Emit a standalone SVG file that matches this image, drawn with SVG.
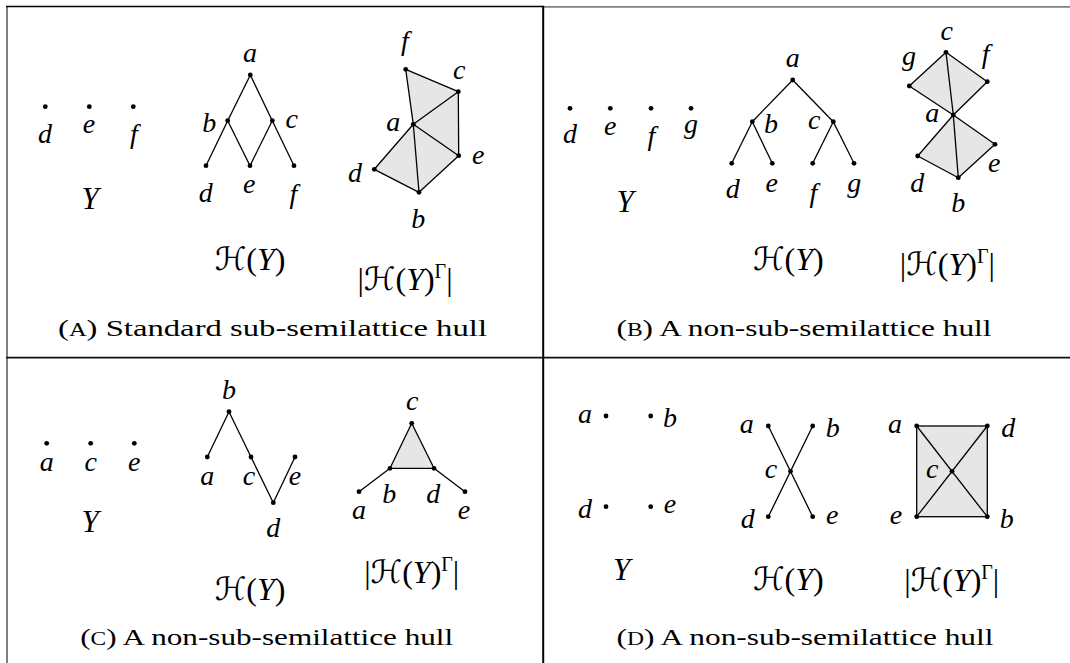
<svg xmlns="http://www.w3.org/2000/svg" width="1070" height="663" viewBox="0 0 1070 663">
<style>
.m{font-family:'Liberation Serif','DejaVu Serif',serif;font-style:italic;font-size:28px;fill:#000;text-anchor:middle}
.y{font-size:31px}
.r{font-family:'Liberation Serif','DejaVu Serif',serif;font-size:32px;fill:#000;text-anchor:middle}
.it{font-style:italic}
.cal{font-family:'DejaVu Serif','DejaVu Sans',serif;font-style:italic}
.sup{font-size:20px}
.cap{font-family:'Liberation Serif','DejaVu Serif',serif;font-size:24px;fill:#000;text-anchor:middle}
.sc{font-size:18px}
.e{stroke:#000;stroke-width:1.3;fill:none}
.f{fill:#e6e6e6;stroke:none}
.dot{fill:#000}
</style>
<rect width="1070" height="663" fill="#fff"/>
<g id="frame">
<line x1="7" y1="6" x2="7" y2="663" stroke="#808080" stroke-width="2"/>
<line x1="6" y1="6.5" x2="543" y2="6.5" stroke="#000" stroke-width="1.5"/>
<line x1="543" y1="6.8" x2="1070" y2="6.8" stroke="#808080" stroke-width="1.8"/>
<line x1="543.2" y1="5.8" x2="543.2" y2="663" stroke="#000" stroke-width="2"/>
<line x1="6" y1="357.7" x2="1070" y2="357.7" stroke="#111" stroke-width="1.8"/>
</g>

<g id="faces-A">
<polygon class="f" points="405.7,69.3 458.3,91.7 458.7,155.7 419,192.3 374.3,169.3 413.3,124.3"/>
</g>
<g id="connectors">
<g id="edges-A">
<line class="e" x1="250.3" y1="75" x2="227.7" y2="120.7"/>
<line class="e" x1="250.3" y1="75" x2="272.3" y2="120.7"/>
<line class="e" x1="227.7" y1="120.7" x2="206" y2="165.7"/>
<line class="e" x1="227.7" y1="120.7" x2="250" y2="165.7"/>
<line class="e" x1="272.3" y1="120.7" x2="250" y2="165.7"/>
<line class="e" x1="272.3" y1="120.7" x2="294" y2="165.7"/>
<line class="e" x1="405.7" y1="69.3" x2="458.3" y2="91.7"/>
<line class="e" x1="405.7" y1="69.3" x2="413.3" y2="124.3"/>
<line class="e" x1="458.3" y1="91.7" x2="413.3" y2="124.3"/>
<line class="e" x1="458.3" y1="91.7" x2="458.7" y2="155.7"/>
<line class="e" x1="413.3" y1="124.3" x2="458.7" y2="155.7"/>
<line class="e" x1="413.3" y1="124.3" x2="419" y2="192.3"/>
<line class="e" x1="413.3" y1="124.3" x2="374.3" y2="169.3"/>
<line class="e" x1="374.3" y1="169.3" x2="419" y2="192.3"/>
<line class="e" x1="419" y1="192.3" x2="458.7" y2="155.7"/>
</g>
<g id="edges-B">
<polygon class="f" points="946,52.3 987.3,81.7 953.3,115 909.3,86"/>
<polygon class="f" points="953.3,115 995,144.3 958.3,177.7 917.7,156"/>
<line class="e" x1="792.7" y1="80" x2="752.3" y2="121.7"/>
<line class="e" x1="792.7" y1="80" x2="833.3" y2="121.7"/>
<line class="e" x1="752.3" y1="121.7" x2="731.7" y2="163.3"/>
<line class="e" x1="752.3" y1="121.7" x2="772.3" y2="163.3"/>
<line class="e" x1="833.3" y1="121.7" x2="812.7" y2="163.3"/>
<line class="e" x1="833.3" y1="121.7" x2="854" y2="163.3"/>
<line class="e" x1="909.3" y1="86" x2="946" y2="52.3"/>
<line class="e" x1="946" y1="52.3" x2="987.3" y2="81.7"/>
<line class="e" x1="987.3" y1="81.7" x2="953.3" y2="115"/>
<line class="e" x1="909.3" y1="86" x2="953.3" y2="115"/>
<line class="e" x1="946" y1="52.3" x2="953.3" y2="115"/>
<line class="e" x1="953.3" y1="115" x2="995" y2="144.3"/>
<line class="e" x1="995" y1="144.3" x2="958.3" y2="177.7"/>
<line class="e" x1="958.3" y1="177.7" x2="917.7" y2="156"/>
<line class="e" x1="917.7" y1="156" x2="953.3" y2="115"/>
<line class="e" x1="953.3" y1="115" x2="958.3" y2="177.7"/>
</g>
<g id="edges-C">
<polygon class="f" points="411.7,423.3 434,468.3 390,468.3"/>
<line class="e" x1="229" y1="411.7" x2="207.3" y2="457"/>
<line class="e" x1="229" y1="411.7" x2="251" y2="457"/>
<line class="e" x1="251" y1="457" x2="273.3" y2="502.7"/>
<line class="e" x1="273.3" y1="502.7" x2="295" y2="457"/>
<line class="e" x1="411.7" y1="423.3" x2="434" y2="468.3"/>
<line class="e" x1="434" y1="468.3" x2="390" y2="468.3"/>
<line class="e" x1="390" y1="468.3" x2="411.7" y2="423.3"/>
<line class="e" x1="390" y1="468.3" x2="359" y2="491.7"/>
<line class="e" x1="434" y1="468.3" x2="465" y2="491.7"/>
</g>
<g id="edges-D">
<rect class="f" x="916.7" y="426" width="70.6" height="90.7"/>
<line class="e" x1="768.3" y1="426" x2="812.7" y2="516.7"/>
<line class="e" x1="812.7" y1="426" x2="768.3" y2="516.7"/>
<rect class="e" x="916.7" y="426" width="70.6" height="90.7"/>
<line class="e" x1="916.7" y1="426" x2="987.3" y2="516.7"/>
<line class="e" x1="987.3" y1="426" x2="916.7" y2="516.7"/>
</g>
</g>

<g id="nodes-A">
<g id="A-Y-d"><circle class="dot" cx="45.3" cy="106.7" r="2.4"/><text class="m" x="45" y="142.7">d</text></g>
<g id="A-Y-e"><circle class="dot" cx="89.3" cy="106.7" r="2.4"/><text class="m" x="89" y="133.3">e</text></g>
<g id="A-Y-f"><circle class="dot" cx="133.3" cy="106.7" r="2.4"/><text class="m" x="134" y="143">f</text></g>
<text id="A-Y" class="m y" x="90" y="209">Y</text>
<g id="A-H-a"><circle class="dot" cx="250.3" cy="75" r="2.4"/><text class="m" x="250" y="61.7">a</text></g>
<g id="A-H-b"><circle class="dot" cx="227.7" cy="120.7" r="2.4"/><text class="m" x="209.3" y="132.3">b</text></g>
<g id="A-H-c"><circle class="dot" cx="272.3" cy="120.7" r="2.4"/><text class="m" x="291.7" y="128.3">c</text></g>
<g id="A-H-d"><circle class="dot" cx="206" cy="165.7" r="2.4"/><text class="m" x="205.7" y="202">d</text></g>
<g id="A-H-e"><circle class="dot" cx="250" cy="165.7" r="2.4"/><text class="m" x="249.3" y="193.3">e</text></g>
<g id="A-H-f"><circle class="dot" cx="294" cy="165.7" r="2.4"/><text class="m" x="293.3" y="203">f</text></g>
<text id="A-HY" class="r" x="250" y="270"><tspan class="cal">ℋ</tspan>(<tspan class="it">Y</tspan>)</text>
<g id="A-K-f"><circle class="dot" cx="405.7" cy="69.3" r="2.4"/><text class="m" x="405" y="50">f</text></g>
<g id="A-K-c"><circle class="dot" cx="458.3" cy="91.7" r="2.4"/><text class="m" x="459.3" y="79">c</text></g>
<g id="A-K-a"><circle class="dot" cx="413.3" cy="124.3" r="2.4"/><text class="m" x="393.3" y="130.7">a</text></g>
<g id="A-K-e"><circle class="dot" cx="458.7" cy="155.7" r="2.4"/><text class="m" x="478.3" y="164">e</text></g>
<g id="A-K-d"><circle class="dot" cx="374.3" cy="169.3" r="2.4"/><text class="m" x="355" y="181.7">d</text></g>
<g id="A-K-b"><circle class="dot" cx="419" cy="192.3" r="2.4"/><text class="m" x="418.3" y="228">b</text></g>
<text id="A-K" class="r" x="405" y="290">|<tspan class="cal">ℋ</tspan>(<tspan class="it">Y</tspan>)<tspan class="sup" dy="-12">Γ</tspan><tspan dy="12">|</tspan></text>
<text id="A-cap" class="cap" x="272.5" y="336" textLength="429" lengthAdjust="spacingAndGlyphs">(<tspan class="sc">A</tspan>) Standard sub-semilattice hull</text>
</g>

<g id="nodes-B">
<g id="B-Y-d"><circle class="dot" cx="570" cy="108.3" r="2.4"/><text class="m" x="570" y="143.3">d</text></g>
<g id="B-Y-e"><circle class="dot" cx="610.3" cy="108.3" r="2.4"/><text class="m" x="610.3" y="135">e</text></g>
<g id="B-Y-f"><circle class="dot" cx="651" cy="108.3" r="2.4"/><text class="m" x="651.5" y="145">f</text></g>
<g id="B-Y-g"><circle class="dot" cx="691" cy="108.3" r="2.4"/><text class="m" x="691" y="133.3">g</text></g>
<text id="B-Y" class="m y" x="625" y="211.7">Y</text>
<g id="B-H-a"><circle class="dot" cx="792.7" cy="80" r="2.4"/><text class="m" x="792.7" y="66.7">a</text></g>
<g id="B-H-b"><circle class="dot" cx="752.3" cy="121.7" r="2.4"/><text class="m" x="771" y="133.3">b</text></g>
<g id="B-H-c"><circle class="dot" cx="833.3" cy="121.7" r="2.4"/><text class="m" x="814.3" y="129.3">c</text></g>
<g id="B-H-d"><circle class="dot" cx="731.7" cy="163.3" r="2.4"/><text class="m" x="732.7" y="198.3">d</text></g>
<g id="B-H-e"><circle class="dot" cx="772.3" cy="163.3" r="2.4"/><text class="m" x="771.7" y="191.7">e</text></g>
<g id="B-H-f"><circle class="dot" cx="812.7" cy="163.3" r="2.4"/><text class="m" x="813.3" y="201.7">f</text></g>
<g id="B-H-g"><circle class="dot" cx="854" cy="163.3" r="2.4"/><text class="m" x="854.3" y="191.7">g</text></g>
<text id="B-HY" class="r" x="788.3" y="270"><tspan class="cal">ℋ</tspan>(<tspan class="it">Y</tspan>)</text>
<g id="B-K-c"><circle class="dot" cx="946" cy="52.3" r="2.4"/><text class="m" x="946.7" y="40">c</text></g>
<g id="B-K-g"><circle class="dot" cx="909.3" cy="86" r="2.4"/><text class="m" x="909" y="65">g</text></g>
<g id="B-K-f"><circle class="dot" cx="987.3" cy="81.7" r="2.4"/><text class="m" x="985.7" y="63.3">f</text></g>
<g id="B-K-a"><circle class="dot" cx="953.3" cy="115" r="2.4"/><text class="m" x="932.3" y="121.7">a</text></g>
<g id="B-K-e"><circle class="dot" cx="995" cy="144.3" r="2.4"/><text class="m" x="994.3" y="171.7">e</text></g>
<g id="B-K-d"><circle class="dot" cx="917.7" cy="156" r="2.4"/><text class="m" x="917.3" y="191.7">d</text></g>
<g id="B-K-b"><circle class="dot" cx="958.3" cy="177.7" r="2.4"/><text class="m" x="958.3" y="211.7">b</text></g>
<text id="B-K" class="r" x="947.3" y="275">|<tspan class="cal">ℋ</tspan>(<tspan class="it">Y</tspan>)<tspan class="sup" dy="-12">Γ</tspan><tspan dy="12">|</tspan></text>
<text id="B-cap" class="cap" x="804" y="336" textLength="375" lengthAdjust="spacingAndGlyphs">(<tspan class="sc">B</tspan>) A non-sub-semilattice hull</text>
</g>

<g id="nodes-C">
<g id="C-Y-a"><circle class="dot" cx="46.7" cy="443.3" r="2.4"/><text class="m" x="46.7" y="470.7">a</text></g>
<g id="C-Y-c"><circle class="dot" cx="90.7" cy="443.3" r="2.4"/><text class="m" x="90.7" y="470.7">c</text></g>
<g id="C-Y-e"><circle class="dot" cx="134.3" cy="443.3" r="2.4"/><text class="m" x="134.3" y="470.7">e</text></g>
<text id="C-Y" class="m y" x="90" y="531.7">Y</text>
<g id="C-H-b"><circle class="dot" cx="229" cy="411.7" r="2.4"/><text class="m" x="229" y="399.3">b</text></g>
<g id="C-H-a"><circle class="dot" cx="207.3" cy="457" r="2.4"/><text class="m" x="207.3" y="485">a</text></g>
<g id="C-H-c"><circle class="dot" cx="251" cy="457" r="2.4"/><text class="m" x="249" y="485">c</text></g>
<g id="C-H-e"><circle class="dot" cx="295" cy="457" r="2.4"/><text class="m" x="295" y="485">e</text></g>
<g id="C-H-d"><circle class="dot" cx="273.3" cy="502.7" r="2.4"/><text class="m" x="273.3" y="536.7">d</text></g>
<text id="C-HY" class="r" x="250" y="600"><tspan class="cal">ℋ</tspan>(<tspan class="it">Y</tspan>)</text>
<g id="C-K-c"><circle class="dot" cx="411.7" cy="423.3" r="2.4"/><text class="m" x="412.3" y="410">c</text></g>
<g id="C-K-b"><circle class="dot" cx="390" cy="468.3" r="2.4"/><text class="m" x="389.3" y="503.3">b</text></g>
<g id="C-K-d"><circle class="dot" cx="434" cy="468.3" r="2.4"/><text class="m" x="433.3" y="503.3">d</text></g>
<g id="C-K-a"><circle class="dot" cx="359" cy="491.7" r="2.4"/><text class="m" x="359" y="519">a</text></g>
<g id="C-K-e"><circle class="dot" cx="465" cy="491.7" r="2.4"/><text class="m" x="464" y="519">e</text></g>
<text id="C-K" class="r" x="411.7" y="583.3">|<tspan class="cal">ℋ</tspan>(<tspan class="it">Y</tspan>)<tspan class="sup" dy="-12">Γ</tspan><tspan dy="12">|</tspan></text>
<text id="C-cap" class="cap" x="266.7" y="645" textLength="373" lengthAdjust="spacingAndGlyphs">(<tspan class="sc">C</tspan>) A non-sub-semilattice hull</text>
</g>

<g id="nodes-D">
<g id="D-Y-a"><circle class="dot" cx="606" cy="416" r="2.4"/><text class="m" x="585" y="423.3">a</text></g>
<g id="D-Y-b"><circle class="dot" cx="650.7" cy="416" r="2.4"/><text class="m" x="670" y="426.7">b</text></g>
<g id="D-Y-d"><circle class="dot" cx="606" cy="506.7" r="2.4"/><text class="m" x="585" y="518.3">d</text></g>
<g id="D-Y-e"><circle class="dot" cx="650.7" cy="506.7" r="2.4"/><text class="m" x="670" y="513.3">e</text></g>
<text id="D-Y" class="m y" x="621.7" y="580">Y</text>
<g id="D-H-a"><circle class="dot" cx="768.3" cy="426" r="2.4"/><text class="m" x="746.7" y="433.3">a</text></g>
<g id="D-H-b"><circle class="dot" cx="812.7" cy="426" r="2.4"/><text class="m" x="832.7" y="436.7">b</text></g>
<g id="D-H-c"><circle class="dot" cx="790.5" cy="471.3" r="2.4"/><text class="m" x="771" y="478.3">c</text></g>
<g id="D-H-d"><circle class="dot" cx="768.3" cy="516.7" r="2.4"/><text class="m" x="747.7" y="528.3">d</text></g>
<g id="D-H-e"><circle class="dot" cx="812.7" cy="516.7" r="2.4"/><text class="m" x="832.3" y="524.3">e</text></g>
<text id="D-HY" class="r" x="788.3" y="590"><tspan class="cal">ℋ</tspan>(<tspan class="it">Y</tspan>)</text>
<g id="D-K-a"><circle class="dot" cx="916.7" cy="426" r="2.4"/><text class="m" x="895" y="433.3">a</text></g>
<g id="D-K-d"><circle class="dot" cx="987.3" cy="426" r="2.4"/><text class="m" x="1008.3" y="436.7">d</text></g>
<g id="D-K-c"><circle class="dot" cx="952" cy="471.3" r="2.4"/><text class="m" x="932.3" y="478.3">c</text></g>
<g id="D-K-e"><circle class="dot" cx="916.7" cy="516.7" r="2.4"/><text class="m" x="896" y="524.3">e</text></g>
<g id="D-K-b"><circle class="dot" cx="987.3" cy="516.7" r="2.4"/><text class="m" x="1006.7" y="528.3">b</text></g>
<text id="D-K" class="r" x="951.7" y="591">|<tspan class="cal">ℋ</tspan>(<tspan class="it">Y</tspan>)<tspan class="sup" dy="-12">Γ</tspan><tspan dy="12">|</tspan></text>
<text id="D-cap" class="cap" x="805" y="645" textLength="377" lengthAdjust="spacingAndGlyphs">(<tspan class="sc">D</tspan>) A non-sub-semilattice hull</text>
</g>
</svg>
